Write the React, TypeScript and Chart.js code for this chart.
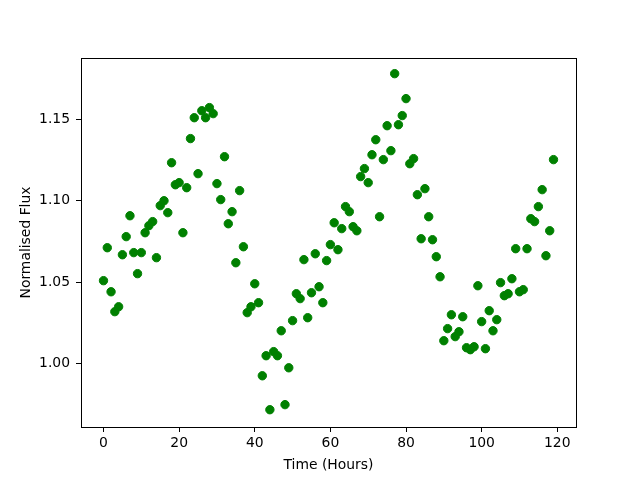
import React, { useEffect, useRef } from "react";
import { Chart, registerables } from "chart.js";

Chart.register(...registerables);

const hours: number[] = Array.from({ length: 120 }, (_, i) => i);

const flux: number[] = [
  1.0509, 1.0711, 1.0441, 1.0319, 1.0349, 1.0668, 1.0779, 1.0907, 1.0681, 1.0552,
  1.0681, 1.0803, 1.0846, 1.0871, 1.065, 1.0969, 1.0999, 1.0926, 1.1232, 1.1097,
  1.111, 1.0803, 1.1079, 1.138, 1.1508, 1.1165, 1.1551, 1.1508, 1.157, 1.1533,
  1.1104, 1.1006, 1.1269, 1.0858, 1.0932, 1.0619, 1.1061, 1.0717, 1.0313, 1.0349,
  1.049, 1.0374, 0.9926, 1.0049, 0.9718, 1.0074, 1.0049, 1.0202, 0.9749, 0.9975,
  1.0264, 1.0429, 1.0399, 1.0638, 1.0282, 1.0435, 1.0674, 1.0472, 1.0374, 1.0632,
  1.073, 1.0864, 1.0699, 1.0828, 1.0963, 1.0932, 1.084, 1.0815, 1.1147, 1.1196,
  1.111, 1.1281, 1.1373, 1.0901, 1.1251, 1.1459, 1.1306, 1.1778, 1.1465, 1.1521,
  1.1625, 1.1226, 1.1257, 1.1036, 1.0766, 1.1073, 1.0901, 1.076, 1.0656, 1.0533,
  1.0141, 1.0215, 1.03, 1.0166, 1.0196, 1.0288, 1.0098, 1.0086, 1.0104, 1.0478,
  1.0258, 1.0092, 1.0325, 1.0202, 1.027, 1.0497, 1.0417, 1.0429, 1.0521, 1.0705,
  1.0441, 1.0454, 1.0705, 1.0889, 1.0871, 1.0963, 1.1067, 1.0662, 1.0815, 1.1251,
];

const xTicks: number[] = [0, 20, 40, 60, 80, 100, 120];
const yTicks: number[] = [1.0, 1.05, 1.1, 1.15];

const boxPlugin = {
  id: "boxPlugin",
  afterDraw(chart: any) {
    const { ctx, chartArea } = chart;
    ctx.save();
    ctx.strokeStyle = "#000";
    ctx.lineWidth = 1;
    ctx.strokeRect(
      Math.round(chartArea.left) + 0.5,
      Math.round(chartArea.top) + 0.5,
      Math.round(chartArea.right - chartArea.left),
      Math.round(chartArea.bottom - chartArea.top)
    );
    ctx.restore();
  },
};

export default function App() {
  const ref = useRef<HTMLCanvasElement | null>(null);

  useEffect(() => {
    if (!ref.current) return;
    const font = { family: "'DejaVu Sans', sans-serif", size: 13.9 };
    const chart = new Chart(ref.current, {
      type: "scatter",
      data: {
        datasets: [
          {
            data: hours.map((h, i) => ({ x: h, y: flux[i] })),
            backgroundColor: "#008000",
            borderColor: "#008000",
            borderWidth: 1,
            pointRadius: 4.2,
          },
        ],
      },
      options: {
        animation: false,
        responsive: false,
        devicePixelRatio: 1,
        layout: { padding: { top: 58, right: 64, left: 0, bottom: 0 } },
        plugins: { legend: { display: false }, tooltip: { enabled: false } },
        scales: {
          x: {
            type: "linear",
            min: -5.95,
            max: 124.95,
            afterBuildTicks: (s: any) => {
              s.ticks = xTicks.map((v) => ({ value: v }));
            },
            afterFit: (s: any) => {
              s.height = 53;
            },
            grid: { drawOnChartArea: false, drawTicks: true, tickLength: 5, color: "#000" },
            border: { display: true, color: "#000" },
            ticks: { color: "#000", font, padding: 3, maxRotation: 0, callback: (v: any) => String(v) },
            title: { display: true, text: "Time (Hours)", color: "#000", font, padding: { top: 0, bottom: 6 } },
          },
          y: {
            type: "linear",
            min: 0.9612,
            max: 1.1874,
            afterBuildTicks: (s: any) => {
              s.ticks = yTicks.map((v) => ({ value: v }));
            },
            afterFit: (s: any) => {
              s.width = 81;
            },
            grid: { drawOnChartArea: false, drawTicks: true, tickLength: 5, color: "#000" },
            border: { display: true, color: "#000" },
            ticks: { color: "#000", font, padding: 6, callback: (v: any) => Number(v).toFixed(2) },
            title: { display: true, text: "Normalised Flux", color: "#000", font, padding: { top: 18, bottom: 0 } },
          },
        },
      },
      plugins: [boxPlugin],
    });
    return () => chart.destroy();
  }, []);

  return (
    <div style={{ position: "fixed", left: 0, top: 0, width: 640, height: 480, background: "#fff" }}>
      <canvas ref={ref} width={640} height={480} />
    </div>
  );
}
